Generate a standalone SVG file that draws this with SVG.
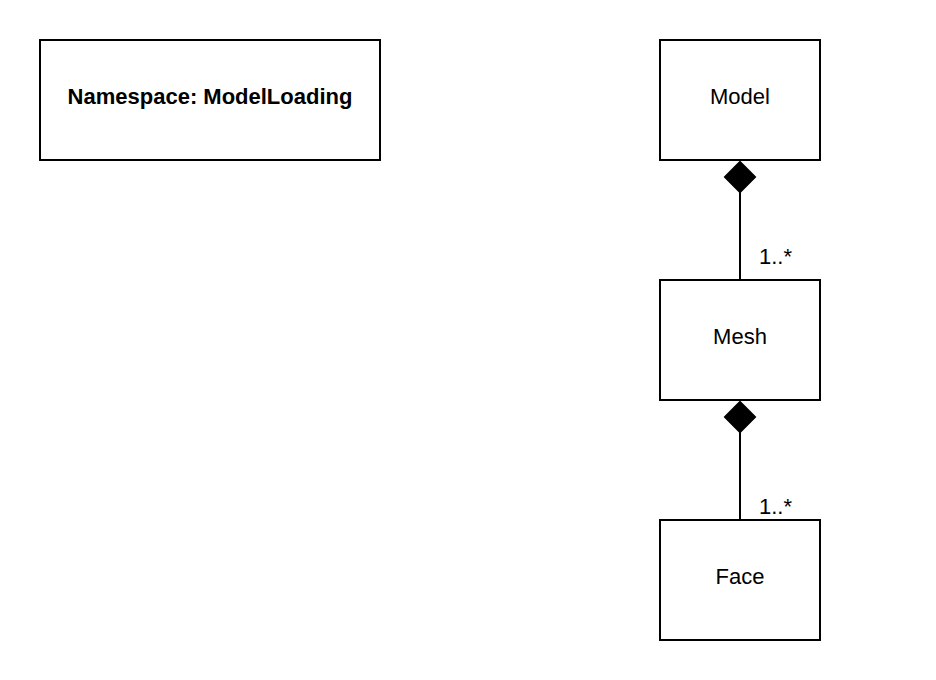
<svg xmlns="http://www.w3.org/2000/svg" width="936" height="680" viewBox="0 0 936 680">
<style>
.box{fill:#fff;stroke:#000;stroke-width:2}
.t{font-family:"Liberation Sans",Arial,sans-serif;font-size:22px;fill:#000;text-anchor:middle}
.b{font-weight:bold}
.lbl{font-family:"Liberation Sans",Arial,sans-serif;font-size:22px;fill:#000}
.edge{stroke:#000;stroke-width:2;fill:none}
.dia{fill:#000;stroke:#000;stroke-width:2}
</style>
<rect width="936" height="680" fill="#fff"/>
<g id="namespace"><rect class="box" x="40" y="40" width="340" height="120"/><text class="t b" x="210" y="104">Namespace: ModelLoading</text></g>
<g id="model"><rect class="box" x="660" y="40" width="160" height="120"/><text class="t" x="740" y="104">Model</text></g>
<g id="mesh"><rect class="box" x="660" y="280" width="160" height="120"/><text class="t" x="740" y="344">Mesh</text></g>
<g id="face"><rect class="box" x="660" y="520" width="160" height="120"/><text class="t" x="740" y="584">Face</text></g>
<g id="connectors">
<line class="edge" x1="740" y1="192" x2="740" y2="280"/>
<polygon class="dia" points="740,162 755,177 740,192 725,177"/>
<text class="lbl" x="759" y="264">1..*</text>
<line class="edge" x1="740" y1="432" x2="740" y2="520"/>
<polygon class="dia" points="740,402 755,417 740,432 725,417"/>
<text class="lbl" x="759" y="514">1..*</text>
</g>
</svg>
